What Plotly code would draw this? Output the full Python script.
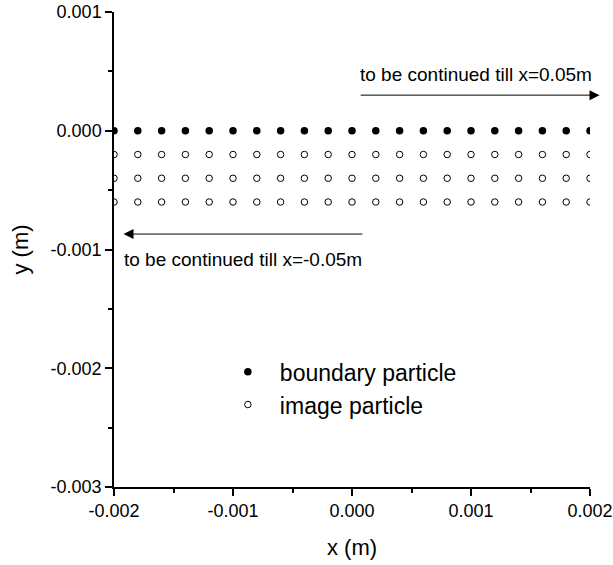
import numpy as np
import plotly.graph_objects as go

# data
boundary_x = [-0.002, -0.0018, -0.0016, -0.0014, -0.0012, -0.001, -0.0008, -0.0006, -0.0004, -0.0002,
              0.0, 0.0002, 0.0004, 0.0006, 0.0008, 0.001, 0.0012, 0.0014, 0.0016, 0.0018, 0.002]
boundary_y_level = 0.0
image_y_levels = [-0.0002, -0.0004, -0.0006]

x_tickvals = [-0.002, -0.001, 0.0, 0.001, 0.002]
x_ticktext = ["-0.002", "-0.001", "0.000", "0.001", "0.002"]
y_tickvals = [-0.003, -0.002, -0.001, 0.0, 0.001]
y_ticktext = ["-0.003", "-0.002", "-0.001", "0.000", "0.001"]

bx = boundary_x
by = [boundary_y_level] * len(boundary_x)
ix = []
iy = []
for lvl in image_y_levels:
    ix += boundary_x
    iy += [lvl] * len(boundary_x)

FONT = "Liberation Sans, Arial, sans-serif"

fig = go.Figure()
fig.add_trace(go.Scatter(
    x=bx, y=by, mode="markers", name="boundary particle",
    marker=dict(symbol="circle", size=7.5, color="black", line=dict(width=0)),
))
fig.add_trace(go.Scatter(
    x=ix, y=iy, mode="markers", name="image particle",
    marker=dict(symbol="circle", size=6.5, color="white", line=dict(width=1, color="black")),
))

# arrows
fig.add_annotation(x=0.00208, y=0.0003, ax=0.00006, ay=0.0003, xref="x", yref="y",
                   axref="x", ayref="y", showarrow=True, arrowhead=2, arrowsize=2,
                   arrowwidth=1, arrowcolor="black", text="")
fig.add_annotation(x=-0.00192, y=-0.00087, ax=0.0001, ay=-0.00087, xref="x", yref="y",
                   axref="x", ayref="y", showarrow=True, arrowhead=2, arrowsize=2,
                   arrowwidth=1, arrowcolor="black", text="")
fig.add_annotation(x=0.00104, y=0.00047, xref="x", yref="y", showarrow=False,
                   text="to be continued till x=0.05m", font=dict(family=FONT, size=19, color="black"))
fig.add_annotation(x=-0.00092, y=-0.00108, xref="x", yref="y", showarrow=False,
                   text="to be continued till x=-0.05m", font=dict(family=FONT, size=19, color="black"))

fig.update_layout(
    width=613, height=565,
    margin=dict(l=114, r=23, t=12, b=78),
    paper_bgcolor="white", plot_bgcolor="white",
    font=dict(family=FONT, color="black"),
    showlegend=True,
    legend=dict(x=0.214, y=0.288, xanchor="left", yanchor="top",
                bgcolor="rgba(0,0,0,0)", borderwidth=0, itemwidth=54,
                font=dict(family=FONT, size=23, color="black"), tracegroupgap=0),
    xaxis=dict(range=[-0.002, 0.002], tickvals=x_tickvals, ticktext=x_ticktext, automargin=False,
               showgrid=False, zeroline=False, showline=True, linecolor="black", linewidth=1.5,
               ticks="outside", ticklen=7, tickwidth=1.5, tickcolor="black",
               tickfont=dict(size=18, family=FONT),
               minor=dict(dtick=0.0005, tick0=0, ticks="outside", ticklen=4, tickwidth=1.5, tickcolor="black", showgrid=False),
               title=dict(text="x (m)", font=dict(size=22, family=FONT), standoff=19)),
    yaxis=dict(range=[-0.003, 0.001], tickvals=y_tickvals, ticktext=y_ticktext, automargin=False,
               showgrid=False, zeroline=False, showline=True, linecolor="black", linewidth=1.5,
               ticks="outside", ticklen=7, tickwidth=1.5, tickcolor="black",
               tickfont=dict(size=18, family=FONT),
               minor=dict(dtick=0.0005, tick0=0, ticks="outside", ticklen=4, tickwidth=1.5, tickcolor="black", showgrid=False),
               title=dict(text="y (m)", font=dict(size=22, family=FONT), standoff=16)),
)

fig.write_html("out.html")
